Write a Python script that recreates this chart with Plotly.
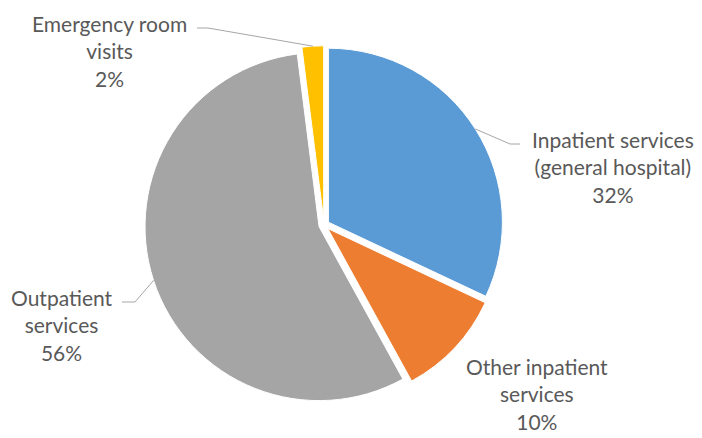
import math
import plotly.graph_objects as go

# data
labels = ["Inpatient services<br>(general hospital)", "Other inpatient<br>services",
          "Outpatient<br>services", "Emergency room<br>visits"]
values = [32, 10, 56, 2]
colors = ["#5B9BD5", "#ED7D31", "#A5A5A5", "#FFC000"]

W, H = 702, 438
CX, CY, R = 324, 225, 174  # pie centre / radius in pixels
PULL = 0.03


def px(x, y):
    return x / W, 1 - y / H


fig = go.Figure()
half = R * (1 + PULL)
x0, _ = px(CX - half, 0)
x1, _ = px(CX + half, 0)
_, y1 = px(0, CY - half)
_, y0 = px(0, CY + half)
fig.add_trace(go.Pie(
    labels=labels,
    values=values,
    sort=False,
    direction="clockwise",
    rotation=0,
    pull=[PULL] * len(values),
    marker=dict(colors=colors, line=dict(color="white", width=1)),
    textinfo="none",
    hoverinfo="label+percent",
    showlegend=False,
    domain=dict(x=[x0, x1], y=[y0, y1]),
))

# label text-block centres and leader-line elbows (pixels)
label_pos = [(613, 167), (537, 394), (62, 325), (110, 51)]
elbows = [[(520, 144), (510, 144)], None, [(122, 302), (135, 302)], [(197, 28), (208, 28)]]

total = sum(values)
cum = 0
for lab, v, pos, elb in zip(labels, values, label_pos, elbows):
    mid = (cum + v / 2) / total * 2 * math.pi
    cum += v
    pct = round(100 * v / total)
    ax, ay = px(*pos)
    fig.add_annotation(
        x=ax, y=ay, xref="paper", yref="paper",
        xanchor="center", yanchor="middle",
        text=f"{lab}<br>{pct}%", showarrow=False,
        font=dict(family="Lato, sans-serif", size=21, color="#595959"),
        align="center",
    )
    if elb:
        ex = CX + math.sin(mid) * R * (1 + PULL)
        ey = CY - math.cos(mid) * R * (1 + PULL)
        pts = [px(*p) for p in elb] + [px(ex, ey)]
        path = "M " + " L ".join(f"{a},{b}" for a, b in pts)
        fig.add_shape(type="path", path=path, xref="paper", yref="paper",
                      line=dict(color="#A6A6A6", width=1))

fig.update_layout(
    width=W, height=H,
    margin=dict(l=0, r=0, t=0, b=0),
    paper_bgcolor="white",
    plot_bgcolor="white",
)
fig.write_html("out.html", config={"displayModeBar": False},
               post_script="document.body.style.margin='0px';")
